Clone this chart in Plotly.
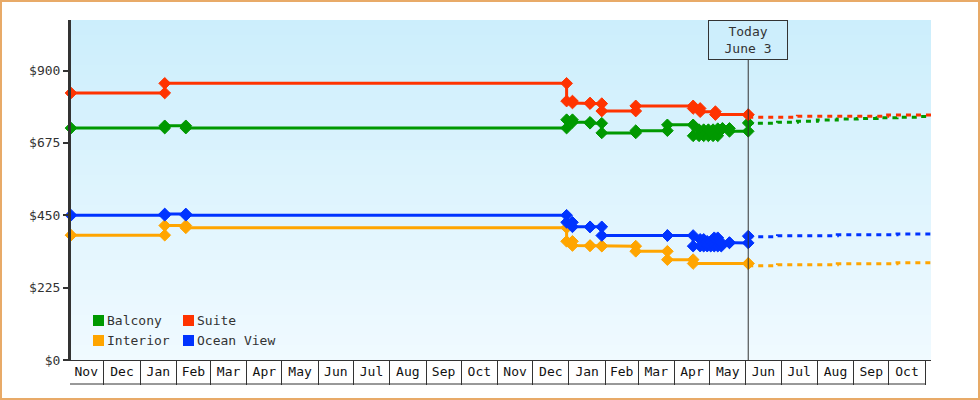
import plotly.graph_objects as go

FONT = "DejaVu Sans Mono"
TXT = "#333333"

# ---------------- data ----------------
series_names = ["Balcony", "Suite", "Interior", "Ocean View"]
series_colors = ["#009900", "#ff3300", "#ffa500", "#0033ff"]

balcony_dates = ["2023-11-03", "2024-01-22", "2024-02-09", "2024-12-30", "2025-01-04",
                 "2025-01-19", "2025-01-29", "2025-02-27", "2025-03-26", "2025-04-17",
                 "2025-04-22", "2025-04-26", "2025-04-30", "2025-05-04", "2025-05-08",
                 "2025-05-12", "2025-05-18", "2025-06-03"]
balcony_prices = [721, 728, 721, 747, 739, 736, 706, 713, 731, 697,
                  716, 697, 716, 697, 719, 720, 711, 737]

suite_dates = ["2023-11-03", "2024-01-22", "2024-12-30", "2025-01-04", "2025-01-19",
               "2025-01-29", "2025-02-27", "2025-04-17", "2025-04-23", "2025-05-06",
               "2025-06-03"]
suite_prices = [830, 860, 805, 799, 797, 774, 790, 782, 772, 763, 762]

interior_dates = ["2023-11-03", "2024-01-22", "2024-02-09", "2024-12-30", "2025-01-04",
                  "2025-01-19", "2025-01-29", "2025-02-27", "2025-03-26", "2025-04-17",
                  "2025-06-03"]
interior_prices = [388, 418, 411, 369, 356, 355, 354, 338, 312, 300, 300]

ocean_dates = ["2023-11-03", "2024-01-22", "2024-02-09", "2024-12-30", "2025-01-04",
               "2025-01-19", "2025-01-29", "2025-03-26", "2025-04-17", "2025-04-23",
               "2025-04-26", "2025-04-29", "2025-05-02", "2025-05-05", "2025-05-08",
               "2025-05-11", "2025-05-18", "2025-06-03"]
ocean_prices = [450, 454, 450, 428, 414, 414, 387, 387, 354, 375,
                354, 369, 354, 380, 354, 365, 364, 385]

# forecasts (dashed)
balcony_fc_dates = ["2025-06-03", "2025-06-11", "2025-06-28", "2025-07-15", "2025-08-01",
                    "2025-08-18", "2025-09-04", "2025-09-21", "2025-10-08", "2025-10-25",
                    "2025-11-06"]
balcony_fc_prices = [735, 736, 739, 742, 746, 749, 751, 753, 755, 757, 757]
suite_fc_dates = ["2025-06-03", "2025-07-15", "2025-09-30", "2025-11-06"]
suite_fc_prices = [755, 758, 762, 762]
interior_fc_dates = ["2025-06-03", "2025-06-28", "2025-08-18", "2025-10-08", "2025-11-06"]
interior_fc_prices = [293, 296, 299, 302, 302]
ocean_fc_dates = ["2025-06-03", "2025-06-28", "2025-08-18", "2025-10-08", "2025-11-06"]
ocean_fc_prices = [383, 386, 389, 392, 392]

y_ticks = [0, 225, 450, 675, 900]
y_tick_labels = ["$" + str(v) for v in y_ticks]

X_RANGE = ["2023-11-03", "2025-11-06"]
Y_RANGE = [0, 1057]
TODAY = "2025-06-03"
TODAY_LABEL = "Today<br>June 3"

history = [(balcony_dates, balcony_prices), (suite_dates, suite_prices),
           (interior_dates, interior_prices), (ocean_dates, ocean_prices)]
forecast = [(balcony_fc_dates, balcony_fc_prices), (suite_fc_dates, suite_fc_prices),
            (interior_fc_dates, interior_fc_prices), (ocean_fc_dates, ocean_fc_prices)]

# ---------------- layout geometry ----------------
W, H = 980, 400
ML, MR, MT, MB = 71, 49, 20, 40
PW, PH = W - ML - MR, H - MT - MB


def px(x):
    return (x - ML) / PW


def py(y):
    return (MT + PH - y) / PH


def step_points(dates, prices):
    xs, ys = [dates[0]], [prices[0]]
    for d, prev, p in zip(dates[1:], prices[:-1], prices[1:]):
        xs += [d, d]
        ys += [prev, p]
    return xs, ys


fig = go.Figure()

for name, color, (fd, fp) in zip(series_names, series_colors, forecast):
    fig.add_trace(go.Scatter(x=fd, y=fp, mode="lines", line_shape="hv",
                             line=dict(color=color, width=3, dash="5px,5px"),
                             showlegend=False, hoverinfo="skip", name=name + " forecast"))

for name, color, (d, p) in zip(series_names, series_colors, history):
    xs, ys = step_points(d, p)
    fig.add_trace(go.Scatter(x=xs, y=ys, mode="lines+markers", name=name,
                             line=dict(color=color, width=3),
                             marker=dict(symbol="diamond", size=9, color=color,
                                         line=dict(width=1, color=color)),
                             cliponaxis=False, showlegend=False))

shapes = []
# gradient background
top = (204, 238, 252)
bot = (240, 250, 255)
N = 68
for i in range(N):
    t = i / (N - 1)
    c = tuple(round(top[k] + (bot[k] - top[k]) * t) for k in range(3))
    shapes.append(dict(type="rect", xref="paper", yref="paper", layer="below",
                       x0=0, x1=1, y1=1 - i / N, y0=1 - (i + 1) / N,
                       fillcolor="rgb(%d,%d,%d)" % c, line=dict(width=0)))
# today line
shapes.append(dict(type="line", xref="x", yref="paper", x0=TODAY, x1=TODAY,
                   y0=0, y1=py(60), line=dict(color=TXT, width=1)))
# bottom line of month boxes
shapes.append(dict(type="line", xref="paper", yref="paper", x0=px(70), x1=px(926),
                   y0=py(384), y1=py(384), line=dict(color=TXT, width=1)))
# outer border
shapes.append(dict(type="rect", xref="paper", yref="paper",
                   x0=px(1), x1=px(W - 1), y0=py(H - 1), y1=py(1),
                   line=dict(color="#e8aa68", width=2)))

annotations = [dict(x=TODAY, xref="x", y=1, yref="paper", yanchor="top", xanchor="center",
                    text=TODAY_LABEL, showarrow=False, font=dict(family=FONT, size=13, color=TXT),
                    bgcolor="rgb(205,238,252)", bordercolor=TXT, borderwidth=1, borderpad=2,
                    width=74, height=34)]

# legend (2x2)
leg_pos = [(93, 320.5), (183, 320.5), (93, 340.5), (183, 340.5)]
for name, color, (lx, ly) in zip(series_names, series_colors, leg_pos):
    shapes.append(dict(type="rect", xref="paper", yref="paper",
                       x0=px(lx), x1=px(lx + 11), y0=py(ly + 5.5), y1=py(ly - 5.5),
                       fillcolor=color, line=dict(width=0)))
    annotations.append(dict(x=px(lx + 12), y=py(ly), xref="paper", yref="paper",
                            xanchor="left", yanchor="middle", text=name, showarrow=False,
                            font=dict(family=FONT, size=13, color=TXT)))

fig.update_layout(
    width=W, height=H,
    margin=dict(l=ML, r=MR, t=MT, b=MB, pad=0),
    paper_bgcolor="white", plot_bgcolor="rgb(204,238,252)",
    font=dict(family=FONT, size=13, color=TXT),
    showlegend=False,
    shapes=shapes, annotations=annotations,
    xaxis=dict(type="date", range=X_RANGE, dtick="M1", tick0="2023-11-01",
               ticklabelmode="period", tickformat="%b", ticks="outside", ticklen=24,
               tickwidth=1, tickcolor=TXT, showline=True, linecolor=TXT, linewidth=1,
               showgrid=False, zeroline=False, ticklabelstandoff=-25,
               tickfont=dict(family=FONT, size=13, color="#111111")),
    yaxis=dict(range=Y_RANGE, tickvals=y_ticks, ticktext=y_tick_labels, ticks="outside",
               ticklen=5, tickwidth=2, tickcolor=TXT, showline=True, linecolor=TXT,
               linewidth=3, showgrid=False, zeroline=False,
               tickfont=dict(family=FONT, size=13, color=TXT)),
)

fig.write_html("out.html")
